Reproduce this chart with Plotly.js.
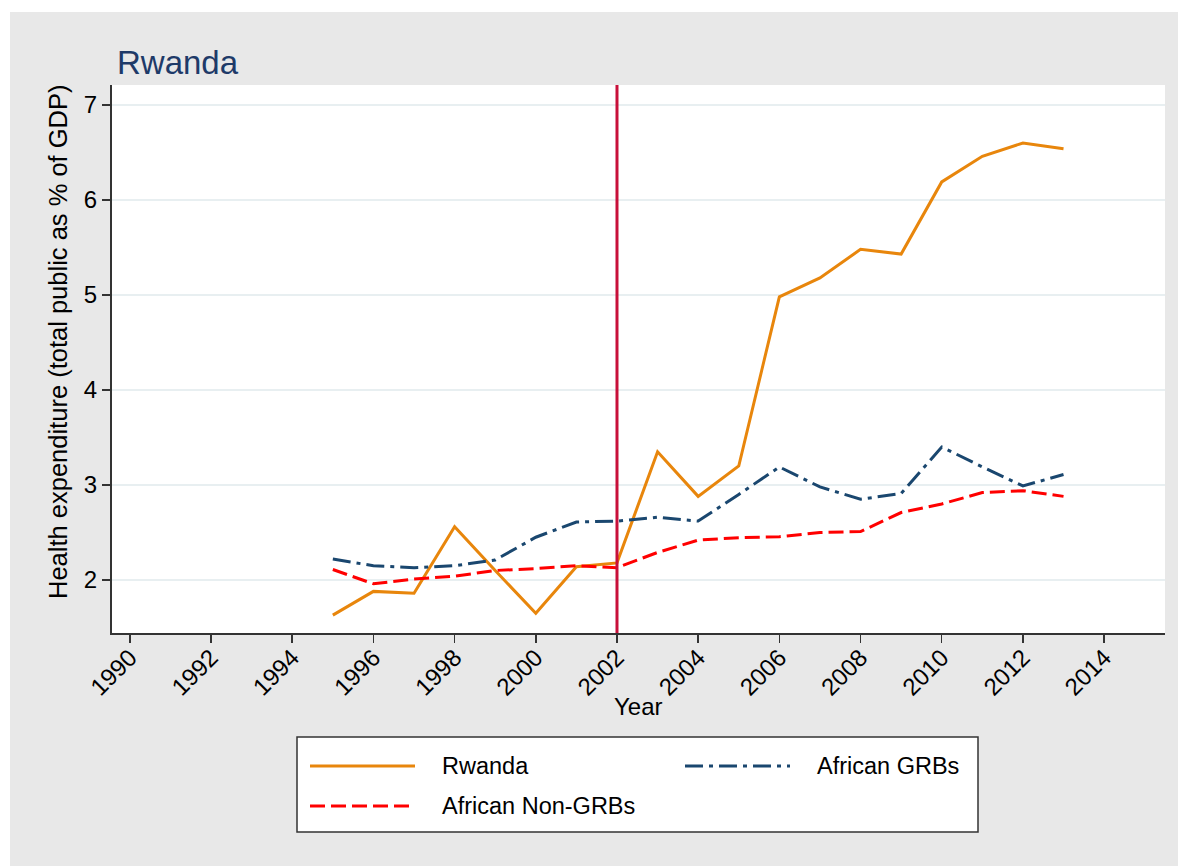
<!DOCTYPE html>
<html>
<head>
<meta charset="utf-8">
<script src="https://cdn.plot.ly/plotly-3.0.1.min.js"></script>
<style>
  html, body { margin: 0; padding: 0; background: #ffffff; }
  #chart { position: absolute; left: 10px; top: 12px; width: 1168px; height: 854px; }
</style>
</head>
<body>
<div id="chart"></div>
<script>
// ---- Data ----
const years = [1995, 1996, 1997, 1998, 1999, 2000, 2001, 2002, 2003, 2004, 2005, 2006, 2007, 2008, 2009, 2010, 2011, 2012, 2013];
const rwanda = [1.63, 1.88, 1.86, 2.56, 2.10, 1.65, 2.14, 2.18, 3.35, 2.88, 3.20, 4.98, 5.18, 5.48, 5.43, 6.19, 6.46, 6.60, 6.54];
const africanGRBs = [2.22, 2.15, 2.13, 2.15, 2.21, 2.45, 2.61, 2.62, 2.66, 2.62, 2.90, 3.19, 2.98, 2.85, 2.91, 3.40, 3.19, 2.99, 3.11];
const africanNonGRBs = [2.11, 1.96, 2.01, 2.04, 2.10, 2.12, 2.15, 2.13, 2.29, 2.42, 2.445, 2.455, 2.50, 2.51, 2.71, 2.80, 2.92, 2.94, 2.88];
const seriesNames = ["Rwanda", "African GRBs", "African Non-GRBs"];
const xTickVals = [1990, 1992, 1994, 1996, 1998, 2000, 2002, 2004, 2006, 2008, 2010, 2012, 2014];
const yTickVals = [2, 3, 4, 5, 6, 7];
const reformYear = 2002;

// ---- Styles ----
const FONT = "Liberation Sans, Arial, Helvetica, sans-serif";
const colors = { rwanda: "#e8860c", grb: "#1a476f", nongrb: "#ff0000", vline: "#c8103a" };
const dashes = { grb: "18px,6px,4px,6px", nongrb: "15px,6px" };

// plot area geometry inside the div (px)
const W = 1168, H = 854;
const M = { l: 102, r: 13, t: 73, b: 233 };
const PW = W - M.l - M.r, PH = H - M.t - M.b;
const px = x => (x - M.l) / PW;          // div x -> paper x
const py = y => (H - M.b - y) / PH;      // div y -> paper y

const traces = [
  { x: years, y: rwanda, name: seriesNames[0], type: "scatter", mode: "lines",
    line: { color: colors.rwanda, width: 3 } },
  { x: years, y: africanGRBs, name: seriesNames[1], type: "scatter", mode: "lines",
    line: { color: colors.grb, width: 3, dash: dashes.grb } },
  { x: years, y: africanNonGRBs, name: seriesNames[2], type: "scatter", mode: "lines",
    line: { color: colors.nongrb, width: 3, dash: dashes.nongrb } }
];

// legend (drawn as box + samples + labels)
const lg = { x0: 287, x1: 968, y0: 725, y1: 820 };
const items = [
  { name: seriesNames[0], sx: 300, tx: 430, y: 754, color: colors.rwanda, dash: "solid" },
  { name: seriesNames[1], sx: 675, tx: 805, y: 754, color: colors.grb, dash: dashes.grb },
  { name: seriesNames[2], sx: 300, tx: 430, y: 794, color: colors.nongrb, dash: dashes.nongrb }
];
const shapes = [
  { type: "line", xref: "x", yref: "paper", x0: reformYear, x1: reformYear, y0: 0, y1: 1,
    line: { color: colors.vline, width: 3 } },
  { type: "rect", xref: "paper", yref: "paper", x0: px(lg.x0), x1: px(lg.x1), y0: py(lg.y0), y1: py(lg.y1),
    line: { color: "#333333", width: 1.5 }, fillcolor: "#ffffff", layer: "above" }
];
const annotations = [
  { xref: "paper", yref: "paper", x: 0.5, y: py(694), xanchor: "center", yanchor: "middle",
    text: "Year", showarrow: false, font: { family: FONT, size: 24, color: "#000000" } },
  { xref: "paper", yref: "paper", x: px(48), y: py(330), xanchor: "center", yanchor: "middle", textangle: -90,
    text: "Health expenditure (total public as % of GDP)", showarrow: false,
    font: { family: FONT, size: 25.5, color: "#000000" } }
];
items.forEach(it => {
  shapes.push({ type: "line", xref: "paper", yref: "paper", x0: px(it.sx), x1: px(it.sx + 105),
    y0: py(it.y), y1: py(it.y), line: { color: it.color, width: 3, dash: it.dash }, layer: "above" });
  annotations.push({ xref: "paper", yref: "paper", x: px(it.tx), y: py(it.y), xanchor: "left", yanchor: "middle",
    text: it.name, showarrow: false, font: { family: FONT, size: 23.5, color: "#000000" } });
});

const layout = {
  width: W, height: H,
  paper_bgcolor: "#e8e8e8", plot_bgcolor: "#ffffff",
  margin: M,
  showlegend: false,
  font: { family: FONT, size: 23, color: "#000000" },
  title: { text: "Rwanda", font: { family: FONT, size: 33, color: "#1e3a68" },
    xref: "container", yref: "container", x: 107 / W, xanchor: "left", y: 1 - 50 / H, yanchor: "middle" },
  xaxis: {
    range: [1989.56, 2015.5], tickvals: xTickVals, ticktext: xTickVals.map(String),
    tickangle: -45, ticks: "outside", ticklen: 8, tickwidth: 1.5, tickcolor: "#333333",
    ticklabelstandoff: -9,
    showline: true, linecolor: "#333333", linewidth: 2, showgrid: false, zeroline: false,
    tickfont: { family: FONT, size: 24, color: "#000000" }
  },
  yaxis: {
    range: [1.442, 7.21], tickvals: yTickVals, ticktext: yTickVals.map(String),
    ticks: "outside", ticklen: 8, tickwidth: 1.5, tickcolor: "#333333",
    showline: true, linecolor: "#333333", linewidth: 2,
    showgrid: true, gridcolor: "#e8eff1", gridwidth: 2, zeroline: false,
    tickfont: { family: FONT, size: 24, color: "#000000" }
  },
  shapes: shapes,
  annotations: annotations
};

Plotly.newPlot("chart", traces, layout, { staticPlot: true, displayModeBar: false });
</script>
</body>
</html>
